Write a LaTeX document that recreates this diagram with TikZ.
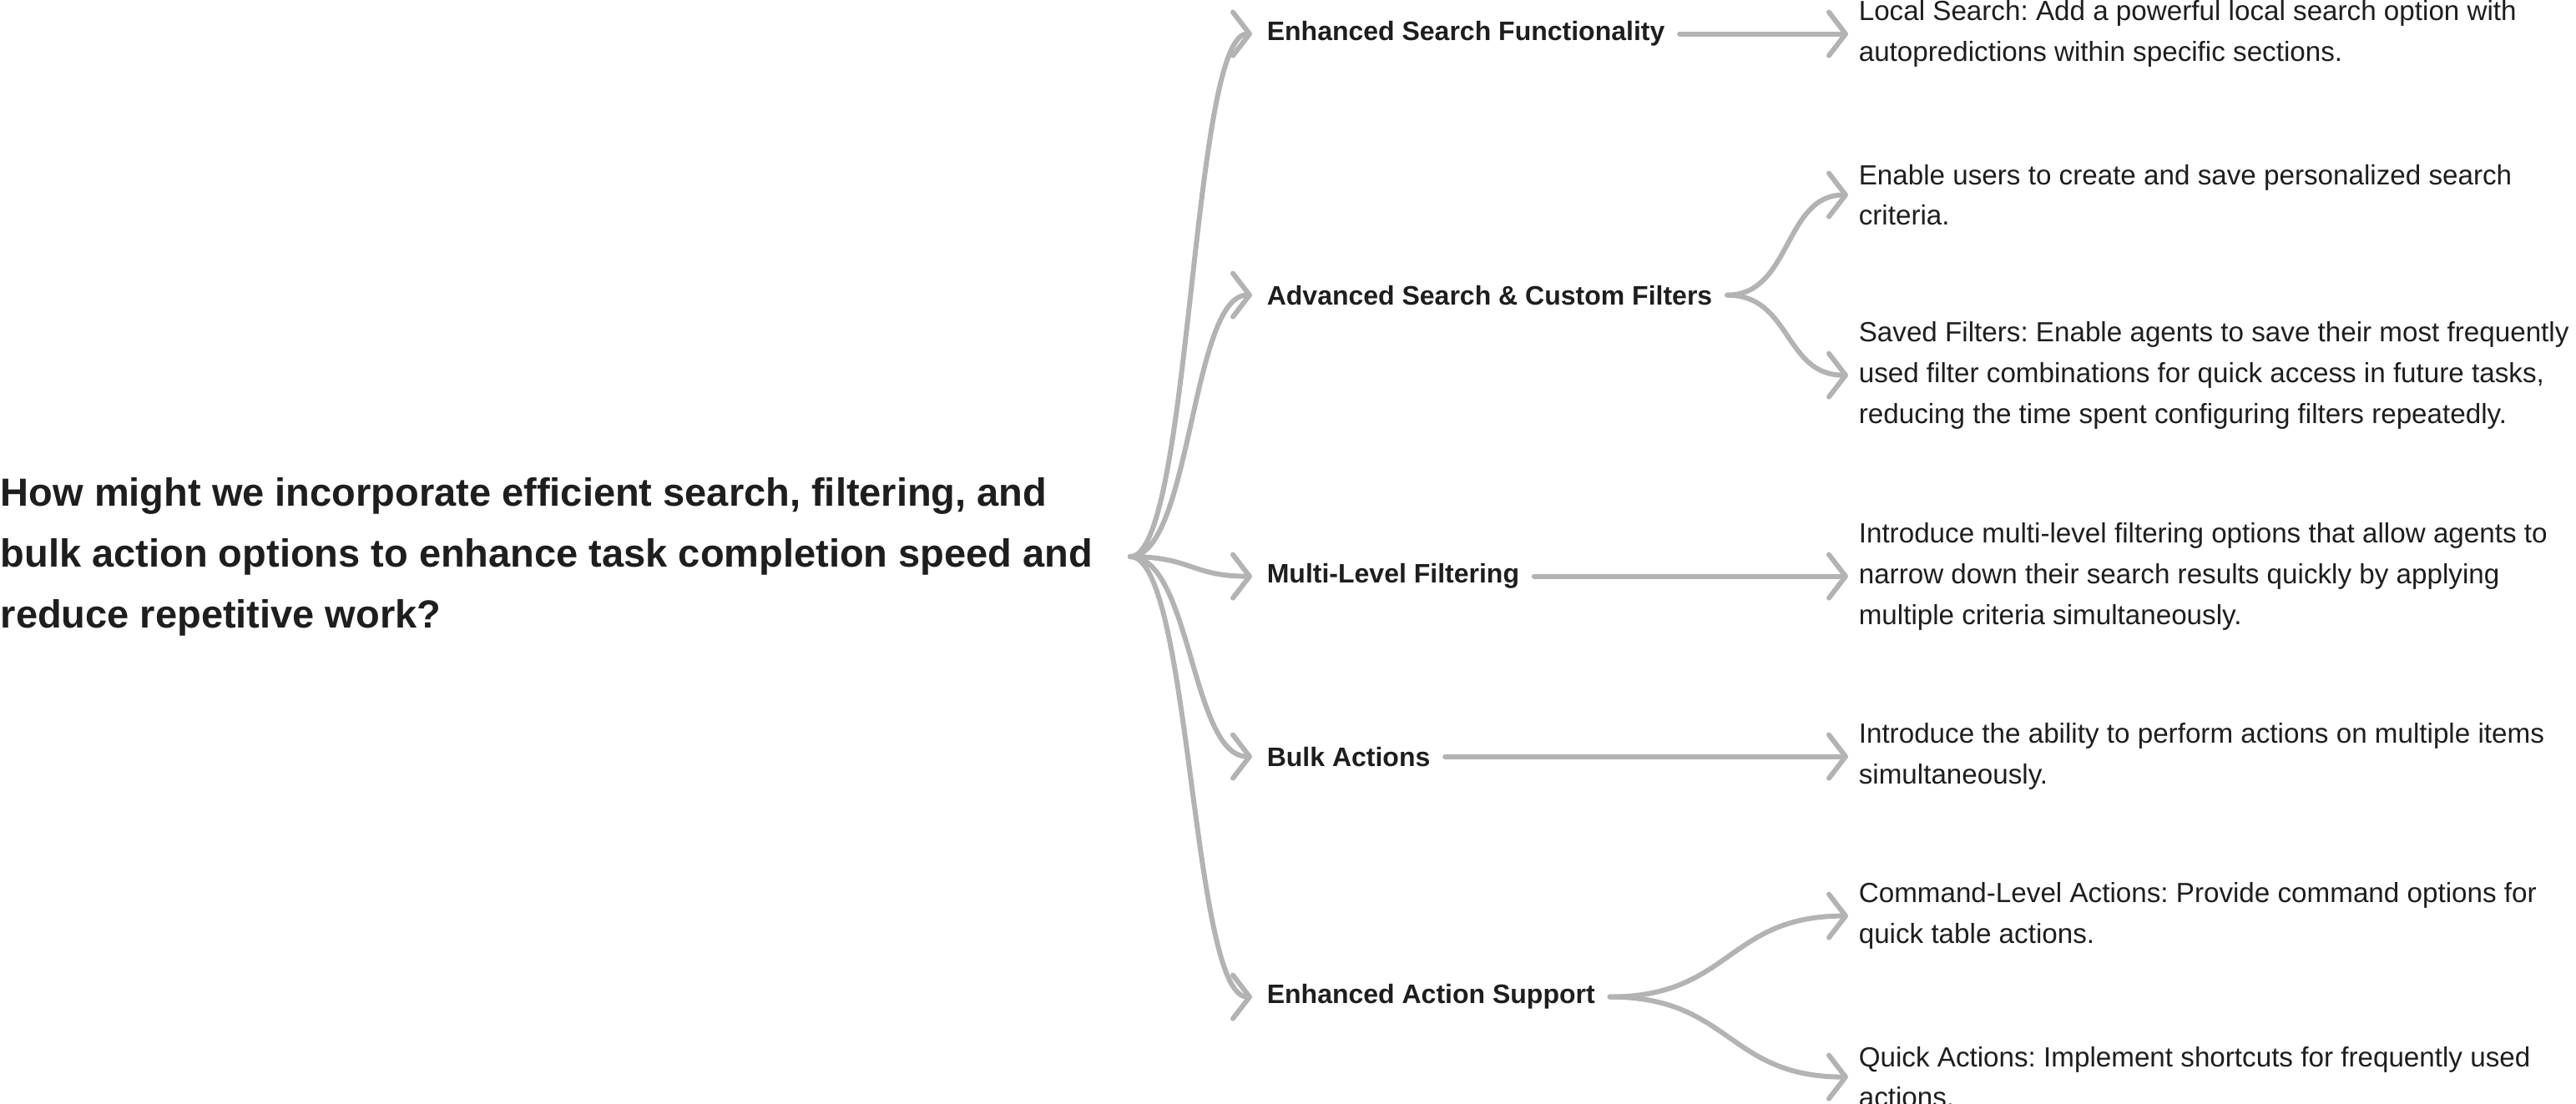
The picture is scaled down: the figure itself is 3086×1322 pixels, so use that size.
\documentclass[tikz,border=0pt]{standalone}
\usepackage{fontspec}
\setmainfont{Liberation Sans}
\usetikzlibrary{arrows.meta}
\definecolor{txt}{HTML}{1E1E1E}
\definecolor{conn}{HTML}{B3B3B3}
\frenchspacing
\begin{document}
\begin{tikzpicture}[x=0.25pt,y=-0.25pt,
  roottxt/.style={anchor=west,inner sep=0pt,align=left,yshift=-1pt,text=txt,font=\frenchspacing\fontsize{11.75pt}{18.25pt}\selectfont\bfseries},
  lbl/.style={anchor=west,inner xsep=4.25pt,inner ysep=1pt,yshift=-0.9pt,text=txt,font=\fontsize{8pt}{10pt}\selectfont\bfseries},
  leaf/.style={anchor=west,inner xsep=3pt,inner ysep=0pt,align=left,yshift=-0.9pt,text=txt,font=\frenchspacing\fontsize{8.3pt}{12.2pt}\selectfont},
  link/.style={draw=conn,line width=1.5pt,line cap=round,line join=round,
    -{Straight Barb[length=5pt,width=13pt,round]}}]
\useasboundingbox (0,0) rectangle (3086,1322);

\node[roottxt] (root) at (0,663) {How might we incorporate efficient search, filtering, and\\bulk action options to enhance task completion speed and\\reduce repetitive work?};
\coordinate (r) at ([xshift=11pt]root.east);

\node[lbl] (b1) at (1500,37) {Enhanced Search Functionality};
\node[lbl] (b2) at (1500,350) {Advanced Search \& Custom Filters};
\node[lbl] (b3) at (1500,687) {Multi-Level Filtering};
\node[lbl] (b4) at (1500,903) {Bulk Actions};
\node[lbl] (b5) at (1500,1191) {Enhanced Action Support};

\node[leaf] (s1) at (2214,37) {Local Search: Add a powerful local search option with\\autopredictions within specific sections.};
\node[leaf] (s2) at (2214,230) {Enable users to create and save personalized search\\criteria.};
\node[leaf] (s3) at (2214,446) {Saved Filters: Enable agents to save their most frequently\\used filter combinations for quick access in future tasks,\\reducing the time spent configuring filters repeatedly.};
\node[leaf] (s4) at (2214,687) {Introduce multi-level filtering options that allow agents to\\narrow down their search results quickly by applying\\multiple criteria simultaneously.};
\node[leaf] (s5) at (2214,903) {Introduce the ability to perform actions on multiple items\\simultaneously.};
\node[leaf] (s6) at (2214,1094) {Command-Level Actions: Provide command options for\\quick table actions.};
\node[leaf] (s7) at (2214,1287) {Quick Actions: Implement shortcuts for frequently used\\actions.};

\foreach \b in {b1,b2,b3,b4,b5}
  \draw[link] (r) .. controls +(73,0) and +(-73,0) .. (\b.west);

\draw[link] (b1.east) -- (s1.west);
\draw[link] (b2.east) .. controls +(77,0) and +(-77,0) .. (s2.west);
\draw[link] (b2.east) .. controls +(77,0) and +(-77,0) .. (s3.west);
\draw[link] (b3.east) -- (s4.west);
\draw[link] (b4.east) -- (s5.west);
\draw[link] (b5.east) .. controls +(145,0) and +(-145,0) .. (s6.west);
\draw[link] (b5.east) .. controls +(145,0) and +(-145,0) .. (s7.west);
\end{tikzpicture}
\end{document}
